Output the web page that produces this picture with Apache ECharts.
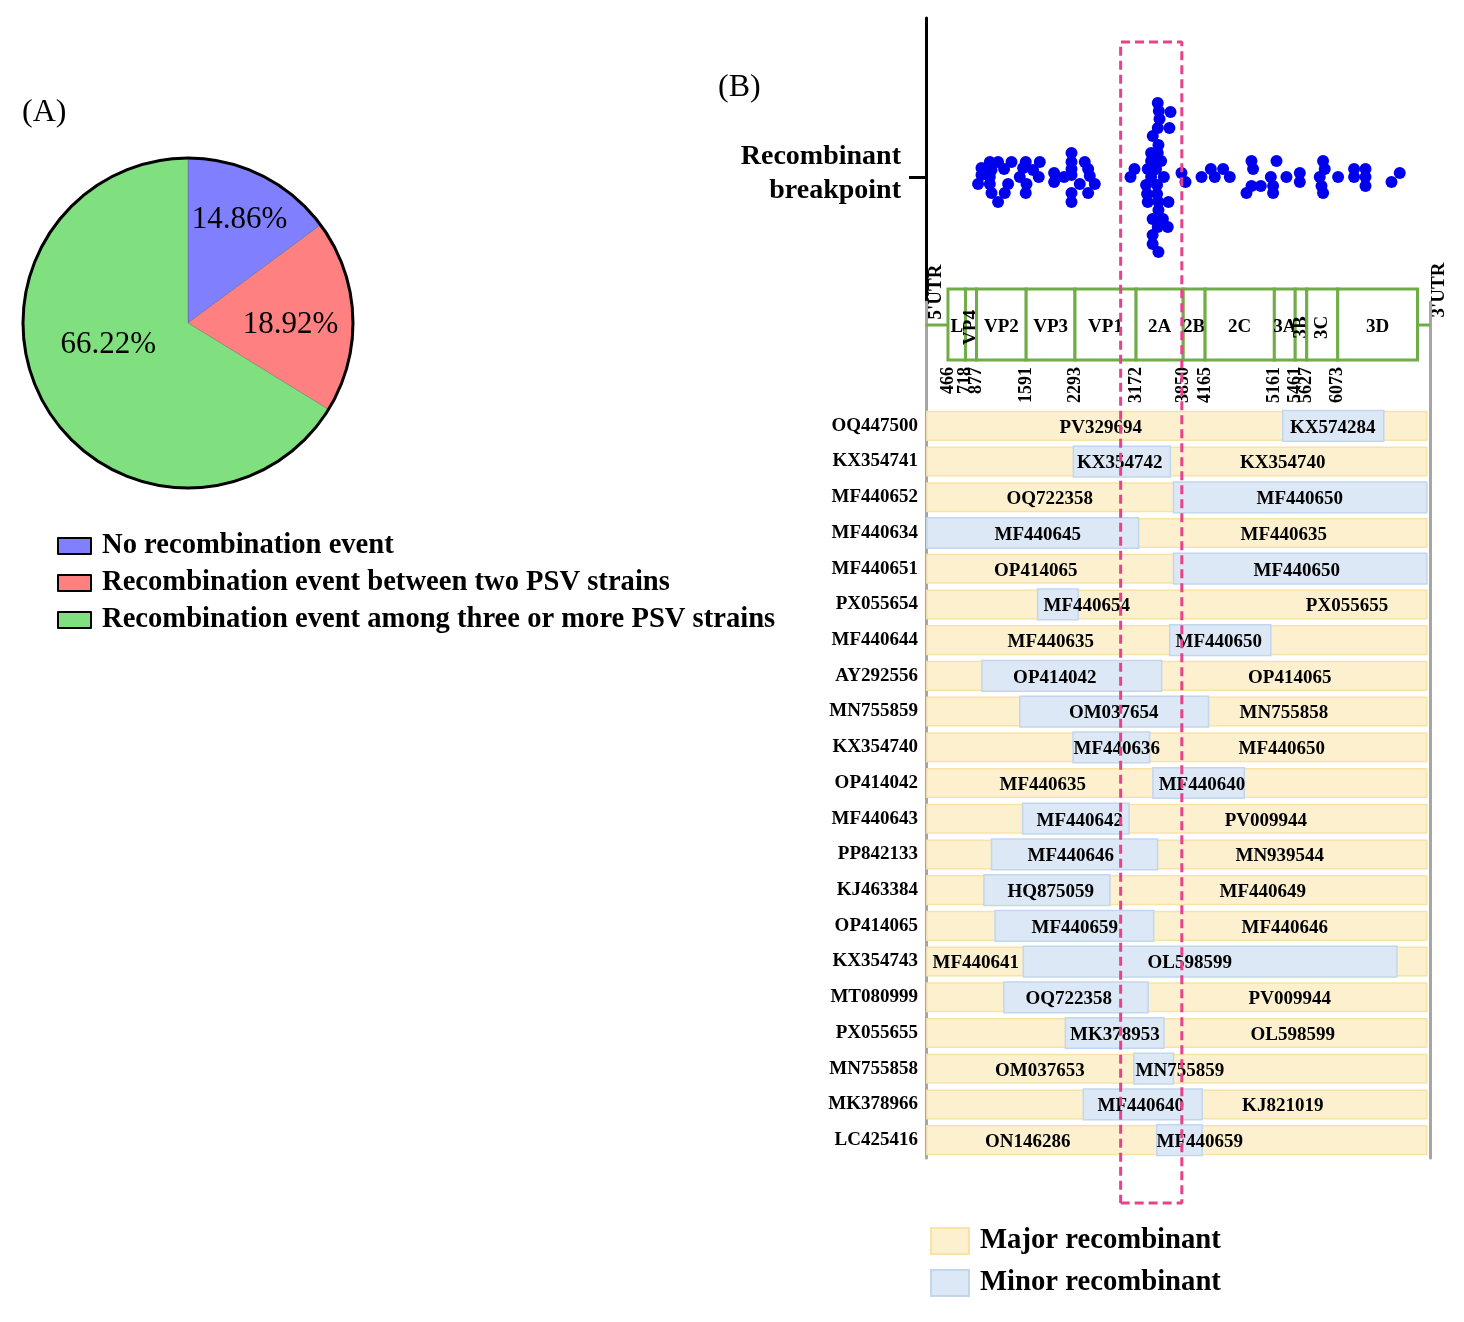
<!DOCTYPE html>
<html>
<head>
<meta charset="utf-8">
<script src="https://cdn.jsdelivr.net/npm/echarts@6/dist/echarts.min.js"></script>
<style>
  html, body { margin: 0; padding: 0; background: #fff; }
  #main { width: 1464px; height: 1322px; }
</style>
</head>
<body>
<div id="main"></div>
<script>
// (A) 重组事件占比
var pieNames = ['No recombination event', 'Recombination event between two PSV strains', 'Recombination event among three or more PSV strains'];
var pieCounts = [11, 14, 49];

// (B) 基因组注释
var geneNames = ['L', 'VP4', 'VP2', 'VP3', 'VP1', '2A', '2B', '2C', '3A', '3B', '3C', '3D'];
var geneStart = [466, 718, 877, 1591, 2293, 3172, 3850, 4165, 5161, 5461, 5627, 6073];
var geneEnd = [718, 877, 1591, 2293, 3172, 3850, 4165, 5161, 5461, 5627, 6073, 7220];
var utrStart = [1, 7220];
var utrEnd = [466, 7400];
var rotatedGenes = ['VP4', '3B', '3C'];
var hotspot = [2950, 3830];

// 重组断点 (位置, 堆叠偏移)
var breakpointPos = [1068, 1187, 1380, 948, 1092, 1273, 948, 1068, 899, 1068, 1331, 1092, 1283, 1187,
    1585, 1787, 1547, 1690, 1499, 1772, 1596, 1585,
    2243, 2243, 2434, 2243, 2482, 1993, 2136, 2243, 2506, 1993, 2362, 2578, 2243, 2482, 2243,
    3484, 3499, 3667, 3509, 3652, 3484, 3412, 3494, 3388, 3484, 3388, 3532, 3149, 3340, 3460, 3092, 3388,
    3571, 3316, 3474, 3330, 3474, 3340, 3494, 3638, 3494, 3410, 3558, 3484, 3628, 3410, 3410, 3494,
    3825, 3883, 4113, 4247, 4304, 4424, 4520, 4832, 4855, 4760, 4832, 4966, 5110, 5143, 5143, 5192,
    5335, 5527, 5527, 5862, 5886, 5814, 5839, 5862, 6078, 6308, 6308, 6472, 6472, 6472, 6846, 6965];
var breakpointLane = [15, 15, 15, 9, 7, 8, 2, 0, -7, -7, -7, -16, -16, -25,
    15, 15, 9, 7, 0, 0, -7, -16,
    24, 15, 15, 8, 8, 4, 0, 2, 1, -5, -7, -7, -16, -16, -25,
    74, 66, 65, 58, 49, 49, 41, 32, 24, 24, 16, 16, 8, 8, 8, 0, 0,
    0, -8, -8, -17, -17, -25, -25, -25, -33, -42, -42, -50, -50, -58, -67, -75,
    4, -5, 0, 8, 0, 8, 0, 16, 8, -16, -9, -9, 0, -9, -16, 16,
    0, 4, -5, 16, 8, 0, -9, -16, 0, 8, 0, 8, 0, -9, -5, 4];

// 重组株
var rows = ['OQ447500', 'KX354741', 'MF440652', 'MF440634', 'MF440651', 'PX055654', 'MF440644', 'AY292556',
    'MN755859', 'KX354740', 'OP414042', 'MF440643', 'PP842133', 'KJ463384', 'OP414065', 'KX354743',
    'MT080999', 'PX055655', 'MN755858', 'MK378966', 'LC425416'];
var majorParent = ['PV329694', 'KX354740', 'OQ722358', 'MF440635', 'OP414065', 'PX055655', 'MF440635', 'OP414065',
    'MN755858', 'MF440650', 'MF440635', 'PV009944', 'MN939544', 'MF440649', 'MF440646', 'MF440641',
    'PV009944', 'OL598599', 'OM037653', 'KJ821019', 'ON146286'];
var minorParent = ['KX574284', 'KX354742', 'MF440650', 'MF440645', 'MF440650', 'MF440654', 'MF440650', 'OP414042',
    'OM037654', 'MF440636', 'MF440640', 'MF440642', 'MF440646', 'HQ875059', 'MF440659', 'OL598599',
    'OQ722358', 'MK378953', 'MN755859', 'MF440640', 'MF440659'];
var segmentSpan = [162, 7353];
var minorStart = [5282, 2270, 3710, 162, 3710, 1755, 3655, 955, 1500, 2265, 3414, 1540, 1092, 983, 1144, 1550,
    1270, 2155, 3140, 2413, 3470];
var minorEnd = [6735, 3665, 7353, 3208, 7353, 2338, 5110, 3540, 4215, 3368, 4729, 3070, 3481, 2795, 3425, 6924,
    3345, 3573, 3710, 4123, 4123];
var majorLabelAt = [2664, 5282, 1931, 5297, 1729, 6206, 1945, 5383, 5297, 5268, 1830, 5038, 5239, 4995, 5311, 866,
    5383, 5426, 1787, 5282, 1614];
var minorLabelAt = [6002, 2938, 5527, 1758, 5484, 2463, 4362, 2003, 2851, 2894, 4119, 2362, 2233, 1945, 2290, 3944,
    2204, 2866, 3801, 3240, 4088];

var FONT = '"Liberation Serif", "Times New Roman", serif';
var pieColors = ['#8080FF', '#FF8080', '#80E080'];
var pieLabelShift = [[13, -30], [17, 2], [-5, -23]];
var MAJOR_FILL = '#FDF0CE', MAJOR_EDGE = '#F8E2A6';
var MINOR_FILL = '#DCE8F5', MINOR_EDGE = '#C2D6ED';
var GREEN = '#70AD47', PINK = '#E8428C', GREY = '#A6A6A6';

// 基因图的纵向位置 (gene grid: 0 在底部 408px)
var BOX_TOP = 119, BOX_BOTTOM = 48, BOX_MID = 83, POS_LABEL_TOP = 41;

function txt(text, font, align, vAlign) {
    return {text: text, font: font, fill: '#000', align: align, verticalAlign: vAlign,
        textAlign: align, textVerticalAlign: vAlign};
}

var chart = echarts.init(document.getElementById('main'));

var xAxisBase = {type: 'value', min: 150, max: 7400, show: false};
var gridBase = {left: 926, width: 504, outerBoundsMode: 'none'};

var labelX = [], labelRow = [], labelText = [];
for (var i = 0; i < rows.length; i++) {
    labelX.push(majorLabelAt[i]); labelRow.push(i); labelText.push(majorParent[i]);
    labelX.push(minorLabelAt[i]); labelRow.push(i); labelText.push(minorParent[i]);
}

function segRect(api, k) {
    var row = api.value(0);
    var a = api.coord([api.value(1), row]);
    var b = api.coord([api.value(2), row]);
    var h = api.size([0, 1])[1] * k;
    return {x: a[0], y: a[1] - h / 2, width: b[0] - a[0], height: h};
}

chart.setOption({
    animation: false,
    backgroundColor: '#fff',
    grid: [
        Object.assign({top: 18, height: 284}, gridBase),   // 断点
        Object.assign({top: 302, height: 106}, gridBase),  // 基因图
        Object.assign({top: 408, height: 750}, gridBase),  // 重组株
        Object.assign({top: 42, height: 1161}, gridBase)   // 虚线框
    ],
    xAxis: [
        Object.assign({gridIndex: 0}, xAxisBase),
        Object.assign({gridIndex: 1}, xAxisBase),
        Object.assign({gridIndex: 2}, xAxisBase),
        Object.assign({gridIndex: 3}, xAxisBase)
    ],
    yAxis: [
        {
            type: 'value', gridIndex: 0, min: -125, max: 159,
            axisLine: {show: true, lineStyle: {color: '#000', width: 3}},
            axisTick: {show: true, customValues: [0], length: 17, lineStyle: {color: '#000', width: 3}},
            axisLabel: {show: false}, splitLine: {show: false}
        },
        {
            type: 'value', gridIndex: 1, min: 0, max: 106,
            axisLine: {show: true, lineStyle: {color: GREY, width: 3}},
            axisTick: {show: false}, axisLabel: {show: false}, splitLine: {show: false}
        },
        {
            type: 'value', gridIndex: 1, min: 0, max: 106, position: 'right',
            axisLine: {show: true, lineStyle: {color: GREY, width: 3}},
            axisTick: {show: false}, axisLabel: {show: false}, splitLine: {show: false}
        },
        {
            type: 'category', gridIndex: 2, data: rows, inverse: true,
            axisLine: {show: true, lineStyle: {color: GREY, width: 3}},
            axisTick: {show: false},
            axisLabel: {interval: 0, margin: 8, color: '#000', fontFamily: FONT, fontWeight: 'bold', fontSize: 19}
        },
        {
            type: 'category', gridIndex: 2, data: rows, inverse: true, position: 'right',
            axisLine: {show: true, lineStyle: {color: GREY, width: 3}},
            axisTick: {show: false}, axisLabel: {show: false}
        },
        {type: 'value', gridIndex: 3, min: 0, max: 1, show: false}
    ],
    legend: [
        {
            orient: 'vertical', left: 52, top: 526, icon: 'rect',
            itemWidth: 33, itemHeight: 16, itemGap: 7, selectedMode: false,
            data: pieNames.map(function (n) {
                return {name: n, itemStyle: {borderColor: '#000', borderWidth: 2}};
            }),
            textStyle: {color: '#000', fontFamily: FONT, fontWeight: 'bold', fontSize: 28.6, lineHeight: 30,
                padding: [0, 0, 0, 6]}
        },
        {
            orient: 'vertical', left: 925, top: 1221, icon: 'rect',
            itemWidth: 38, itemHeight: 26, itemGap: 12, selectedMode: false,
            data: [
                {name: 'Major recombinant', itemStyle: {borderColor: MAJOR_EDGE, borderWidth: 2}},
                {name: 'Minor recombinant', itemStyle: {borderColor: MINOR_EDGE, borderWidth: 2}}
            ],
            textStyle: {color: '#000', fontFamily: FONT, fontWeight: 'bold', fontSize: 28.7, lineHeight: 30,
                padding: [0, 0, 0, 6]}
        }
    ],
    graphic: [
        {type: 'text', x: 22, y: 113, style: txt('(A)', '32px ' + FONT, 'left', 'middle')},
        {type: 'text', x: 718, y: 88, style: txt('(B)', '32px ' + FONT, 'left', 'middle')},
        {type: 'text', x: 901, y: 157, style: txt('Recombinant', 'bold 28px ' + FONT, 'right', 'middle')},
        {type: 'text', x: 901, y: 191, style: txt('breakpoint', 'bold 28px ' + FONT, 'right', 'middle')},
        {type: 'text', x: 936, y: 292, rotation: Math.PI / 2, style: txt("5'UTR", 'bold 19px ' + FONT, 'center', 'middle')},
        {type: 'text', x: 1439, y: 290, rotation: Math.PI / 2, style: txt("3'UTR", 'bold 19px ' + FONT, 'center', 'middle')}
    ],
    series: [
        {
            type: 'pie', name: 'events', center: [188, 323], radius: 165,
            startAngle: 90, clockwise: true, silent: true,
            data: pieNames.map(function (n, i) {
                return {name: n, value: pieCounts[i], itemStyle: {color: pieColors[i]}};
            }),
            itemStyle: {borderColor: 'rgba(90,90,90,0.45)', borderWidth: 0.8},
            label: {show: true, position: 'inside', formatter: '{d}%', color: '#000',
                fontFamily: FONT, fontSize: 31},
            labelLine: {show: false},
            labelLayout: function (p) {
                return {dx: pieLabelShift[p.dataIndex][0], dy: pieLabelShift[p.dataIndex][1] + 3};
            },
            emphasis: {disabled: true}
        },
        {
            // 外圈黑边
            type: 'pie', name: 'outline', center: [188, 323], radius: 165, silent: true,
            data: [{name: 'outline', value: 1}],
            itemStyle: {color: 'rgba(0,0,0,0)', borderColor: '#000', borderWidth: 3},
            label: {show: false}, labelLine: {show: false}, emphasis: {disabled: true}
        },
        {
            type: 'scatter', name: 'breakpoint', xAxisIndex: 0, yAxisIndex: 0, silent: true,
            symbol: 'circle', symbolSize: 12,
            itemStyle: {color: '#0000EE', opacity: 1},
            data: breakpointPos.map(function (p, i) { return [p, breakpointLane[i]]; })
        },
        {
            type: 'custom', name: 'utr', xAxisIndex: 1, yAxisIndex: 1, silent: true,
            data: utrStart.map(function (s, i) { return [s, utrEnd[i]]; }),
            encode: {x: [0, 1]},
            renderItem: function (params, api) {
                var a = api.coord([Math.max(api.value(0), 150), BOX_MID]);
                var b = api.coord([api.value(1), BOX_MID]);
                return {type: 'line', shape: {x1: a[0], y1: a[1], x2: b[0], y2: b[1]},
                    style: {stroke: GREEN, lineWidth: 3}};
            }
        },
        {
            type: 'custom', name: 'genes', xAxisIndex: 1, yAxisIndex: 1, silent: true,
            data: geneStart.map(function (s, i) { return [s, geneEnd[i]]; }),
            encode: {x: [0, 1]},
            renderItem: function (params, api) {
                var a = api.coord([api.value(0), BOX_TOP]);
                var b = api.coord([api.value(1), BOX_BOTTOM]);
                var name = geneNames[params.dataIndex];
                var rot = rotatedGenes.indexOf(name) >= 0 ? Math.PI / 2 : 0;
                return {
                    type: 'group', children: [
                        {type: 'rect', shape: {x: a[0], y: a[1], width: b[0] - a[0], height: b[1] - a[1]},
                            style: {fill: '#fff', stroke: GREEN, lineWidth: 3}},
                        {type: 'text', x: (a[0] + b[0]) / 2, y: (a[1] + b[1]) / 2 + 3, rotation: rot,
                            style: txt(name, 'bold 19px ' + FONT, 'center', 'middle')}
                    ]
                };
            }
        },
        {
            type: 'custom', name: 'positions', xAxisIndex: 1, yAxisIndex: 1, silent: true,
            data: geneStart.map(function (s) { return [s]; }),
            encode: {x: 0},
            renderItem: function (params, api) {
                var p = api.coord([api.value(0), POS_LABEL_TOP]);
                return {type: 'text', x: p[0], y: p[1], rotation: Math.PI / 2,
                    style: txt(String(api.value(0)), 'bold 18px ' + FONT, 'right', 'middle')};
            }
        },
        {
            type: 'custom', name: 'Major recombinant', xAxisIndex: 2, yAxisIndex: 3, silent: true,
            itemStyle: {color: MAJOR_FILL},
            data: rows.map(function (r, i) { return [i, segmentSpan[0], segmentSpan[1]]; }),
            encode: {y: 0, x: [1, 2]},
            renderItem: function (params, api) {
                return {type: 'rect', shape: segRect(api, 0.8),
                    style: {fill: MAJOR_FILL, stroke: MAJOR_EDGE, lineWidth: 1.5}};
            }
        },
        {
            type: 'custom', name: 'Minor recombinant', xAxisIndex: 2, yAxisIndex: 3, silent: true,
            itemStyle: {color: MINOR_FILL},
            data: rows.map(function (r, i) { return [i, minorStart[i], minorEnd[i]]; }),
            encode: {y: 0, x: [1, 2]},
            renderItem: function (params, api) {
                return {type: 'rect', shape: segRect(api, 0.86),
                    style: {fill: MINOR_FILL, stroke: MINOR_EDGE, lineWidth: 1.5}};
            }
        },
        {
            type: 'custom', name: 'parents', xAxisIndex: 2, yAxisIndex: 3, silent: true,
            data: labelX.map(function (x, i) { return [x, labelRow[i]]; }),
            encode: {x: 0, y: 1},
            renderItem: function (params, api) {
                var p = api.coord([api.value(0), api.value(1)]);
                return {type: 'text', x: p[0], y: p[1] + 2,
                    style: txt(labelText[params.dataIndex], 'bold 19px ' + FONT, 'center', 'middle')};
            }
        },
        {
            type: 'line', name: 'hotspot', xAxisIndex: 3, yAxisIndex: 5, silent: true,
            symbol: 'none', clip: false, z: 10,
            lineStyle: {color: PINK, width: 3, type: [9, 5]},
            data: [[hotspot[0], 0], [hotspot[1], 0], [hotspot[1], 1], [hotspot[0], 1], [hotspot[0], 0]]
        }
    ]
});
</script>
</body>
</html>
